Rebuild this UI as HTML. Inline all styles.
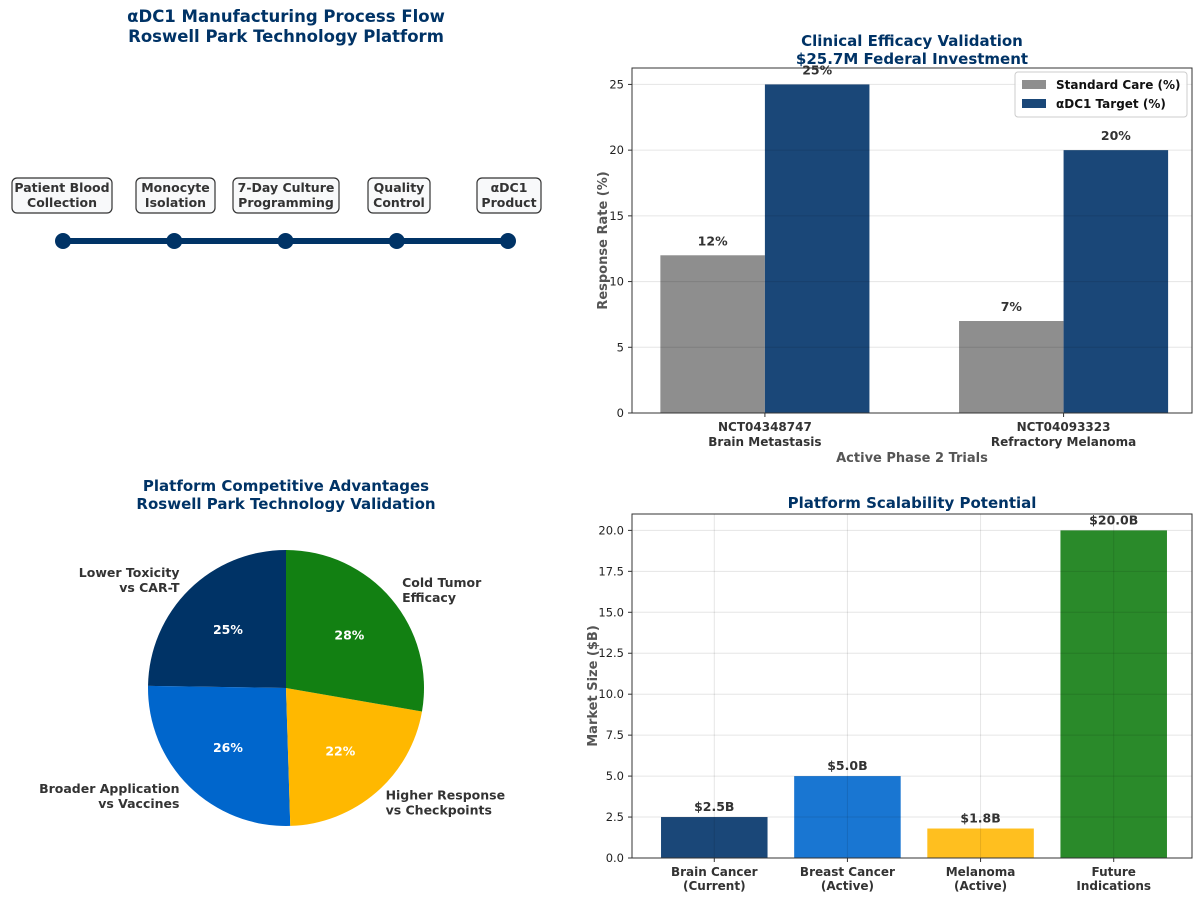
<!DOCTYPE html>
<html><head><meta charset="utf-8"><style>
body{margin:0;background:#fff}
svg{font-family:"DejaVu Sans","Liberation Sans",sans-serif;font-weight:bold}
</style></head><body>
<svg id="s" width="1200" height="900" viewBox="0 0 1200 900" xmlns="http://www.w3.org/2000/svg">
<rect width="1200" height="900" fill="#fff"/>
<g>
<text x="286" y="22" text-anchor="middle" font-size="16.5" fill="#003366">αDC1 Manufacturing Process Flow</text>
<text x="286" y="42" text-anchor="middle" font-size="16.5" fill="#003366">Roswell Park Technology Platform</text>
<g id="flow"></g>
</g>
<g id="top"></g>
<g id="pie"></g>
<g id="bot"></g>
</svg>
<script>
// Flow data
const steps=["Patient Blood|Collection","Monocyte|Isolation","7-Day Culture|Programming","Quality|Control","αDC1|Product"];
// Clinical chart data
const trials=["NCT04348747|Brain Metastasis","NCT04093323|Refractory Melanoma"];
const standardCare=[12,7];
const adcTarget=[25,20];
const topTicks=[0,5,10,15,20,25];
// Pie data
const pieLabels=["Lower Toxicity|vs CAR-T","Broader Application|vs Vaccines","Higher Response|vs Checkpoints","Cold Tumor|Efficacy"];
const pieValues=[25,26,22,28];
const pieColors=["#003366","#0066cc","#ffb800","#128012"];
// Market chart data
const markets=["Brain Cancer|(Current)","Breast Cancer|(Active)","Melanoma|(Active)","Future|Indications"];
const marketSize=[2.5,5.0,1.8,20.0];
const marketColors=["#1a4778","#1976d2","#ffbf1f","#2a8a2a"];
const botTicks=[0,2.5,5,7.5,10,12.5,15,17.5,20];

const NS="http://www.w3.org/2000/svg";
function el(p,t,a){const e=document.createElementNS(NS,t);for(const k in a)e.setAttribute(k,a[k]);p.appendChild(e);return e;}
function txt(p,x,y,s,a){const e=el(p,'text',Object.assign({x:x,y:y},a));e.textContent=s;return e;}
function multi(p,x,y,s,lh,a){s.split('|').forEach((l,i)=>txt(p,x,y+i*lh,l,a));}

// Flow
const flow=document.getElementById('flow');
const fx=i=>63+i*111.25;
const ln=el(flow,'line',{x1:fx(0),y1:241,x2:fx(steps.length-1),y2:241,stroke:'#003366','stroke-width':6});


steps.forEach((s,i)=>{
  const c=el(flow,'circle',{cx:fx(i),cy:241,r:8,fill:'#003366'});
  
  
  const bx=[12,136,233,368,477][i], bw=[100,79,106,62,64][i];
  const r=el(flow,'rect',{x:bx,y:178,width:bw,height:35,rx:5,fill:'#f8f9fa',stroke:'#333','stroke-width':1.2});
  
  
  multi(flow,bx+bw/2,192,s,15,{'text-anchor':'middle','font-size':12.5,fill:'#333'});
});

// Top chart
(function(){
  const g=document.getElementById('top');
  const L=632,R=1192,T=68,B=413,ymax=26.25,xmin=-0.445,xmax=1.43;
  const X=v=>L+(v-xmin)/(xmax-xmin)*(R-L), Y=v=>B-v/ymax*(B-T);
  txt(g,912,46,'Clinical Efficacy Validation',{'text-anchor':'middle','font-size':15,fill:'#003366'});
  txt(g,912,64,'$25.7M Federal Investment',{'text-anchor':'middle','font-size':15,fill:'#003366'});
  const w=0.35;
  trials.forEach((t,i)=>{
    const b1=el(g,'rect',{x:X(i-w),y:Y(standardCare[i]),width:X(w)-X(0),height:B-Y(standardCare[i]),fill:'#8e8e8e'});
    
    
    const b2=el(g,'rect',{x:X(i),y:Y(adcTarget[i]),width:X(w)-X(0),height:B-Y(adcTarget[i]),fill:'#1a4778'});
    
    
    txt(g,X(i-w/2),Y(standardCare[i])-10,standardCare[i]+'%',{'text-anchor':'middle','font-size':12.5,fill:'#333'});
    txt(g,X(i+w/2),Y(adcTarget[i])-10,adcTarget[i]+'%',{'text-anchor':'middle','font-size':12.5,fill:'#333'});
    el(g,'line',{x1:X(i),x2:X(i),y1:B,y2:B+4,stroke:'#333'});
    multi(g,X(i),431,t,15,{'text-anchor':'middle','font-size':12,fill:'#333'});
  });
  topTicks.forEach(v=>{
    el(g,'line',{x1:L,x2:R,y1:Y(v),y2:Y(v),stroke:'#000','stroke-opacity':0.1});
    el(g,'line',{x1:L-4,x2:L,y1:Y(v),y2:Y(v),stroke:'#333'});
    txt(g,L-8,Y(v)+4,v,{'text-anchor':'end','font-size':11.5,'font-weight':'normal',fill:'#222'});
  });
  el(g,'rect',{x:L,y:T,width:R-L,height:B-T,fill:'none',stroke:'#333'});
  txt(g,0,0,'Response Rate (%)',{'text-anchor':'middle','font-size':13,fill:'#555',transform:`translate(607,${(T+B)/2}) rotate(-90)`});
  txt(g,912,462,'Active Phase 2 Trials',{'text-anchor':'middle','font-size':13,fill:'#555'});
  const lg=el(g,'g',{});
  
  
  el(lg,'rect',{x:1015,y:72,width:172,height:45,rx:3,fill:'#fff','fill-opacity':0.9,stroke:'#ccc'});
  el(lg,'rect',{x:1022,y:80,width:24,height:9,fill:'#8e8e8e'});
  txt(lg,1056,89,'Standard Care (%)',{'font-size':12,fill:'#111'});
  el(lg,'rect',{x:1022,y:99,width:24,height:9,fill:'#1a4778'});
  txt(lg,1056,108,'αDC1 Target (%)',{'font-size':12,fill:'#111'});
})();

// Pie
(function(){
  const g=document.getElementById('pie');
  txt(g,286,491,'Platform Competitive Advantages',{'text-anchor':'middle','font-size':15,fill:'#003366'});
  txt(g,286,509,'Roswell Park Technology Validation',{'text-anchor':'middle','font-size':15,fill:'#003366'});
  const cx=286,cy=688,r=138,tot=pieValues.reduce((a,b)=>a+b,0);
  let a=90;
  pieValues.forEach((v,i)=>{
    const sw=v/tot*360,a2=a+sw,rad=d=>d*Math.PI/180;
    const p=el(g,'path',{d:`M${cx},${cy} L${cx+r*Math.cos(rad(a))},${cy-r*Math.sin(rad(a))} A${r},${r} 0 ${sw>180?1:0} 0 ${cx+r*Math.cos(rad(a2))},${cy-r*Math.sin(rad(a2))} Z`,fill:pieColors[i]});
    
    
    const m=rad(a+sw/2);
    txt(g,cx+0.6*r*Math.cos(m),cy-0.6*r*Math.sin(m)+5,Math.round(v/tot*100)+'%',{'text-anchor':'middle','font-size':12.5,fill:'#fff'});
    const lx=cx+1.1*r*Math.cos(m),ly=cy-1.1*r*Math.sin(m);
    multi(g,lx,ly-3,pieLabels[i],15,{'text-anchor':Math.cos(m)<0?'end':'start','font-size':12.5,fill:'#333'});
    a=a2;
  });
})();

// Bottom chart
(function(){
  const g=document.getElementById('bot');
  const L=632,R=1192,T=514,B=858,ymax=21,xmin=-0.618,xmax=3.588;
  const X=v=>L+(v-xmin)/(xmax-xmin)*(R-L), Y=v=>B-v/ymax*(B-T);
  txt(g,912,508,'Platform Scalability Potential',{'text-anchor':'middle','font-size':15,fill:'#003366'});
  markets.forEach((m,i)=>{
    const b=el(g,'rect',{x:X(i-0.4),y:Y(marketSize[i]),width:X(0.8)-X(0),height:B-Y(marketSize[i]),fill:marketColors[i]});
    
    
    txt(g,X(i),Y(marketSize[i])-6,'$'+marketSize[i].toFixed(1)+'B',{'text-anchor':'middle','font-size':12.5,fill:'#333'});
    el(g,'line',{x1:X(i),x2:X(i),y1:T,y2:B,stroke:'#000','stroke-opacity':0.1});
    el(g,'line',{x1:X(i),x2:X(i),y1:B,y2:B+4,stroke:'#333'});
    multi(g,X(i),876,m,14,{'text-anchor':'middle','font-size':12,fill:'#333'});
  });
  botTicks.forEach(v=>{
    el(g,'line',{x1:L,x2:R,y1:Y(v),y2:Y(v),stroke:'#000','stroke-opacity':0.1});
    el(g,'line',{x1:L-4,x2:L,y1:Y(v),y2:Y(v),stroke:'#333'});
    txt(g,L-8,Y(v)+4,v.toFixed(1),{'text-anchor':'end','font-size':11.5,'font-weight':'normal',fill:'#222'});
  });
  el(g,'rect',{x:L,y:T,width:R-L,height:B-T,fill:'none',stroke:'#333'});
  txt(g,0,0,'Market Size ($B)',{'text-anchor':'middle','font-size':13,fill:'#555',transform:`translate(597,${(T+B)/2}) rotate(-90)`});
})();
</script>
</body></html>
